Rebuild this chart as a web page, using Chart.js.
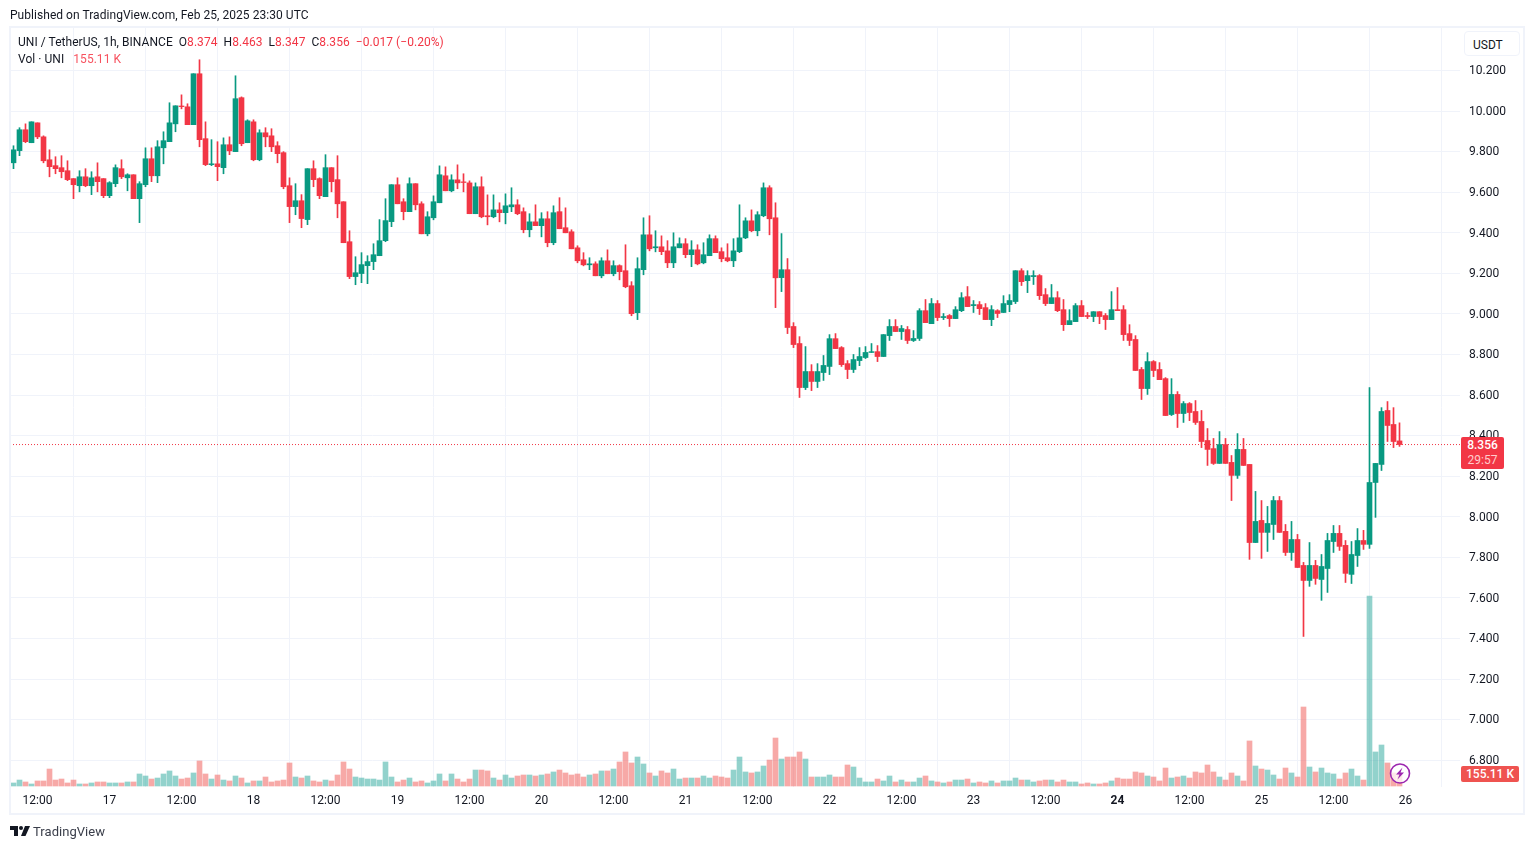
<!DOCTYPE html>
<html><head><meta charset="utf-8">
<script src="https://cdn.jsdelivr.net/npm/chart.js@4"></script>
<style>
html,body{margin:0;padding:0;background:#fff;width:1534px;height:849px;overflow:hidden}
body{font-family:Roboto,sans-serif;color:#131722;position:relative}
canvas{position:absolute;left:0;top:0}
.t{position:absolute;white-space:nowrap;font-size:12px;line-height:14px;letter-spacing:.045px}
.r{color:#f23645}.rv{color:#f7525f}
#frame{position:absolute;left:9px;top:26px;width:1512px;height:785px;border:2px solid #f0f3fa;box-sizing:content-box;pointer-events:none}
#usdt{position:absolute;left:1464px;top:31px;width:56px;height:25px;border:1px solid #f0f3fa;border-radius:4px;background:#fff;text-align:left;padding-left:8px;line-height:26px;font-size:12px;box-sizing:border-box}
.tag{position:absolute;color:#fff;text-align:center;font-size:12px;font-weight:500}
#ptag{left:1461px;width:43px;height:32px;background:#f23645;border-radius:2px;line-height:15px;padding-top:1px;box-sizing:border-box}
#vtag{left:1461px;width:58px;height:16px;background:#ef5350;border-radius:2px;line-height:16px}
</style></head><body>
<canvas id="c" width="1534" height="849"></canvas>
<div id="frame"></div>
<div class="t" style="left:10px;top:8px">Published on TradingView.com, Feb 25, 2025 23:30 UTC</div>
<div class="t" style="left:18px;top:35px">UNI / TetherUS, 1h, BINANCE&nbsp;&nbsp;O<span class="r">8.374</span>&nbsp;&nbsp;H<span class="r">8.463</span>&nbsp;&nbsp;L<span class="r">8.347</span>&nbsp;&nbsp;C<span class="r">8.356</span>&nbsp;&nbsp;<span class="r">−0.017 (−0.20%)</span></div>
<div class="t" style="left:18px;top:52px">Vol · UNI&nbsp;&nbsp;&nbsp;<span class="rv">155.11 K</span></div>
<div id="usdt">USDT</div>
<div id="ptag" class="tag">8.356<br><span style="color:#fcc;font-weight:400">29:57</span></div>
<div id="vtag" class="tag">155.11 K</div>
<svg style="position:absolute;left:1388px;top:762px" width="24" height="24" viewBox="0 0 24 24"><circle cx="12" cy="11.5" r="9.5" fill="#fff" fill-opacity=".75" stroke="#9c27b0" stroke-width="1.6"/><path d="M14.5 5.5 L8 12.5 H11.5 L9.5 17.5 L16 10.5 H12.5 Z" fill="#9c27b0"/></svg>
<svg style="position:absolute;left:10px;top:826px" width="20" height="11" viewBox="0 0 20 11"><path d="M0 0H8V10H4V4H0Z" fill="#131722"/><circle cx="11" cy="2" r="2" fill="#131722"/><path d="M15 0H20L15.5 10H11Z" fill="#131722"/></svg>
<div class="t" style="left:33px;top:823px;font-size:13px;line-height:17px;color:#3a3e4a">TradingView</div>
<script>
const opens=[9.745,9.805,9.908,9.844,9.942,9.873,9.760,9.731,9.721,9.706,
9.667,9.632,9.676,9.632,9.676,9.667,9.583,9.642,9.716,9.671,
9.686,9.568,9.637,9.765,9.681,9.819,9.849,9.937,10.025,10.021,
9.933,10.184,9.864,9.736,9.740,9.721,9.834,9.800,10.066,9.844,
9.947,9.760,9.893,9.878,9.829,9.795,9.632,9.529,9.558,9.465,
9.716,9.667,9.578,9.721,9.662,9.553,9.356,9.184,9.199,9.238,
9.258,9.287,9.361,9.455,9.637,9.553,9.504,9.642,9.543,9.395,
9.474,9.548,9.681,9.607,9.661,9.651,9.646,9.494,9.627,9.484,
9.479,9.513,9.499,9.528,9.538,9.504,9.415,9.454,9.435,9.469,
9.351,9.504,9.425,9.405,9.326,9.267,9.242,9.247,9.188,9.262,
9.198,9.238,9.213,9.139,9.006,9.218,9.390,9.326,9.331,9.311,
9.252,9.326,9.346,9.292,9.316,9.252,9.287,9.371,9.307,9.277,
9.262,9.307,9.375,9.459,9.410,9.484,9.622,9.474,9.179,9.218,
8.938,8.854,8.637,8.716,8.667,8.711,8.741,8.878,8.834,8.755,
8.726,8.770,8.785,8.810,8.814,8.790,8.893,8.938,8.913,8.923,
8.869,8.879,9.016,8.952,9.051,8.982,8.992,8.977,9.016,9.085,
9.041,9.046,9.031,8.972,9.016,9.007,9.046,9.061,9.213,9.164,
9.184,9.189,9.095,9.051,9.080,9.021,8.947,8.962,9.041,8.992,
8.987,9.011,8.992,8.972,9.021,9.021,8.903,8.874,8.726,8.632,
8.765,8.726,8.681,8.504,8.603,8.509,8.558,8.519,8.470,8.376,
8.336,8.263,8.356,8.268,8.204,8.332,8.258,7.873,7.982,7.923,
7.962,8.080,7.928,7.824,7.888,7.760,7.686,7.760,7.691,7.745,
7.878,7.918,7.859,7.716,7.809,7.883,7.864,8.169,8.258,8.524,8.455,8.374];
const highs=[9.829,9.918,9.937,9.947,9.942,9.878,9.809,9.775,9.780,9.755,
9.667,9.706,9.716,9.701,9.745,9.667,9.652,9.735,9.760,9.691,
9.686,9.652,9.819,9.819,9.854,9.898,10.041,10.026,10.080,10.036,
10.184,10.253,9.947,9.859,9.849,9.868,9.873,10.174,10.070,9.957,
9.957,9.908,9.918,9.913,9.849,9.800,9.671,9.642,9.588,9.716,
9.755,9.671,9.785,9.721,9.780,9.553,9.410,9.282,9.302,9.287,
9.346,9.465,9.568,9.637,9.671,9.568,9.671,9.642,9.553,9.504,
9.582,9.730,9.725,9.686,9.735,9.691,9.656,9.646,9.676,9.587,
9.587,9.548,9.592,9.622,9.563,9.523,9.494,9.538,9.499,9.504,
9.533,9.573,9.523,9.415,9.336,9.302,9.277,9.257,9.277,9.316,
9.262,9.242,9.341,9.159,9.277,9.474,9.484,9.410,9.385,9.361,
9.400,9.375,9.371,9.361,9.341,9.351,9.390,9.385,9.326,9.346,
9.371,9.538,9.474,9.513,9.504,9.646,9.632,9.548,9.396,9.273,
8.957,8.888,8.839,8.750,8.755,8.795,8.898,8.903,8.839,8.770,
8.800,8.834,8.839,8.854,8.844,8.898,8.972,8.972,8.943,8.938,
8.918,9.026,9.071,9.076,9.066,9.002,8.997,9.036,9.105,9.135,
9.066,9.061,9.051,9.041,9.021,9.090,9.095,9.213,9.223,9.213,
9.213,9.194,9.125,9.145,9.110,9.071,9.021,9.051,9.066,9.007,
9.011,9.011,9.002,9.110,9.130,9.041,8.947,8.893,8.736,8.809,
8.770,8.760,8.686,8.681,8.617,8.568,8.563,8.573,8.524,8.435,
8.386,8.420,8.386,8.302,8.410,8.386,8.258,8.125,8.080,8.051,
8.100,8.100,7.962,7.977,7.913,7.775,7.873,7.785,7.814,7.918,
7.957,7.957,7.883,7.878,7.942,7.933,8.637,8.263,8.538,8.568,8.538,8.463];
const lows=[9.716,9.780,9.844,9.844,9.864,9.745,9.676,9.691,9.671,9.657,
9.568,9.602,9.627,9.588,9.602,9.573,9.573,9.627,9.667,9.607,
9.568,9.450,9.627,9.652,9.647,9.740,9.849,9.898,10.011,9.933,
9.933,9.824,9.731,9.731,9.657,9.691,9.785,9.800,9.829,9.844,
9.755,9.755,9.824,9.800,9.745,9.617,9.450,9.489,9.425,9.440,
9.627,9.568,9.578,9.602,9.474,9.351,9.174,9.144,9.154,9.149,
9.218,9.287,9.356,9.430,9.543,9.464,9.504,9.513,9.395,9.385,
9.464,9.548,9.607,9.602,9.617,9.602,9.494,9.494,9.474,9.439,
9.474,9.454,9.444,9.504,9.489,9.400,9.380,9.435,9.380,9.331,
9.341,9.420,9.400,9.321,9.252,9.237,9.218,9.188,9.178,9.198,
9.188,9.168,9.129,8.991,8.972,9.193,9.311,9.306,9.292,9.228,
9.228,9.326,9.277,9.233,9.242,9.247,9.287,9.302,9.257,9.257,
9.233,9.302,9.371,9.405,9.385,9.479,9.390,9.031,9.110,8.903,
8.834,8.588,8.627,8.622,8.637,8.672,8.701,8.829,8.741,8.681,
8.711,8.745,8.780,8.810,8.765,8.790,8.869,8.913,8.874,8.854,
8.864,8.869,8.957,8.952,8.967,8.972,8.938,8.977,9.011,9.036,
9.007,8.997,8.972,8.942,8.982,9.007,9.011,9.051,9.140,9.105,
9.145,9.071,9.041,9.051,9.011,8.918,8.947,8.962,8.987,8.977,
8.962,8.952,8.923,8.972,9.016,8.869,8.844,8.721,8.578,8.603,
8.691,8.676,8.499,8.499,8.440,8.465,8.474,8.455,8.341,8.253,
8.258,8.263,8.263,8.080,8.189,8.253,7.790,7.873,7.795,7.829,
7.888,7.923,7.809,7.785,7.750,7.410,7.657,7.667,7.588,7.627,
7.824,7.834,7.676,7.671,7.755,7.839,7.844,7.997,8.228,8.371,8.341,8.347];
const closes=[9.809,9.908,9.849,9.947,9.873,9.755,9.726,9.716,9.701,9.662,
9.637,9.676,9.632,9.671,9.652,9.583,9.647,9.721,9.676,9.686,
9.568,9.642,9.765,9.681,9.824,9.854,9.942,10.026,10.022,9.933,
10.184,9.859,9.736,9.740,9.726,9.834,9.804,10.061,9.839,9.952,
9.760,9.893,9.873,9.824,9.790,9.627,9.529,9.558,9.470,9.716,
9.662,9.583,9.721,9.652,9.543,9.351,9.184,9.203,9.243,9.258,
9.292,9.361,9.460,9.637,9.543,9.504,9.642,9.538,9.395,9.479,
9.553,9.686,9.607,9.661,9.646,9.648,9.494,9.627,9.479,9.479,
9.513,9.499,9.533,9.538,9.494,9.415,9.454,9.435,9.469,9.351,
9.499,9.420,9.400,9.321,9.262,9.242,9.247,9.188,9.262,9.198,
9.238,9.208,9.134,9.001,9.223,9.390,9.321,9.331,9.307,9.252,
9.331,9.346,9.292,9.316,9.247,9.292,9.371,9.302,9.272,9.262,
9.311,9.375,9.459,9.410,9.489,9.622,9.469,9.178,9.218,8.933,
8.849,8.637,8.716,8.667,8.716,8.746,8.878,8.829,8.750,8.726,
8.775,8.790,8.810,8.814,8.790,8.898,8.938,8.913,8.928,8.869,
8.879,9.016,8.957,9.051,8.982,8.987,8.977,9.021,9.080,9.036,
9.046,9.026,8.972,9.021,9.002,9.051,9.066,9.213,9.159,9.189,
9.189,9.090,9.051,9.080,9.016,8.947,8.967,9.041,8.987,8.987,
9.011,8.987,8.972,9.021,9.016,8.898,8.869,8.721,8.632,8.765,
8.721,8.676,8.499,8.603,8.509,8.558,8.514,8.465,8.371,8.332,
8.263,8.356,8.263,8.204,8.332,8.253,7.873,7.977,7.923,7.967,
8.080,7.923,7.824,7.888,7.750,7.686,7.760,7.696,7.755,7.883,
7.918,7.854,7.721,7.814,7.883,7.864,8.169,8.263,8.519,8.450,8.371,8.356];
const volumes=[39,77,52,26,65,65,219,77,90,39,
77,26,26,39,52,52,39,39,39,52,
52,155,129,90,103,155,194,129,90,103,
168,323,155,90,142,77,65,129,103,39,
65,65,116,52,65,77,297,116,103,129,
65,52,77,65,142,310,219,116,103,90,
90,77,310,116,52,77,103,52,65,39,
65,155,65,155,90,52,90,206,206,194,
103,77,142,103,129,142,142,129,142,155,
181,206,168,142,155,116,142,155,194,194,
219,310,439,297,374,284,168,129,194,168,
219,90,103,103,103,129,103,129,116,103,
206,374,181,168,181,258,335,619,348,374,
374,439,348,116,116,116,142,116,116,271,
245,103,52,52,90,65,129,52,77,52,
52,103,129,65,52,39,52,77,77,90,
39,52,39,65,39,65,65,103,77,77,
52,65,77,77,52,77,52,52,26,39,
26,26,39,65,103,90,90,181,168,129,
116,65,232,103,116,129,103,181,168,271,
181,116,77,168,129,65,581,258,219,206,
142,90,232,168,116,1019,245,181,232,168,
155,90,168,219,129,77,2451,439,529,297,168,155.11];
const priceTicks=[10.2,10,9.8,9.6,9.4,9.2,9,8.8,8.6,8.4,8.2,8,7.8,7.6,7.4,7.2,7,6.8];
const timeLabels=['12:00','17','12:00','18','12:00','19','12:00','20','12:00','21','12:00','22','12:00','23','12:00','24','12:00','25','12:00','26'];
const lastPrice=8.356, lastVolume=155.11;

const UP='#089981', DOWN='#f23645', UPV='rgba(38,166,154,.5)', DOWNV='rgba(239,83,80,.5)';
const isUp=i=>closes[i]>=opens[i];
const colors=opens.map((_,i)=>isUp(i)?UP:DOWN);
const volColors=opens.map((_,i)=>isUp(i)?UPV:DOWNV);
const xMin=-3.5/6, xMax=1446.5/6;

new Chart(document.getElementById('c'),{
  data:{datasets:[
    {type:'bar',label:'Volume',yAxisID:'yv',order:4,grouped:false,data:volumes.map((v,i)=>({x:i,y:v})),backgroundColor:volColors,barThickness:5,borderWidth:0},
    {type:'line',label:'Last',yAxisID:'y',order:3,data:[{x:xMin,y:lastPrice},{x:xMax,y:lastPrice}],borderColor:DOWN,borderWidth:1,borderDash:[1,2],pointRadius:0},
    {type:'bar',label:'Wick',yAxisID:'y',order:2,grouped:false,data:lows.map((l,i)=>({x:i,y:[l,highs[i]]})),backgroundColor:colors,barThickness:1,borderWidth:0},
    {type:'bar',label:'Body',yAxisID:'y',order:1,grouped:false,data:opens.map((o,i)=>({x:i,y:[o,closes[i]]})),backgroundColor:colors,barThickness:5,borderWidth:0}
  ]},
  options:{
    responsive:false,animation:false,events:[],
    layout:{padding:{left:10,top:28,right:0,bottom:0}},
    plugins:{legend:{display:false},tooltip:{enabled:false},title:{display:false}},
    scales:{
      x:{type:'linear',min:xMin,max:xMax,offset:false,stacked:false,
        afterBuildTicks:s=>{s.ticks=timeLabels.map((_,k)=>({value:4+12*k}));},
        afterFit:s=>{s.height=62;},
        grid:{color:'#f0f3fa',drawTicks:false},border:{display:false},
        ticks:{autoSkip:false,maxRotation:0,padding:7,color:'#131722',
          font:c=>({family:'Roboto',size:12,weight:(c.tick&&c.tick.label==='24')?'bold':'normal'}),
          callback:v=>timeLabels[(v-4)/12]}},
      y:{type:'linear',position:'right',min:10.2-(787-70.5)/202.85,max:10.2+(70.5-28)/202.85,
        afterBuildTicks:s=>{
          s.ticks=priceTicks.map(v=>({value:v}));
          if(!s._shifted){const f=s._computeLabelItems;s._computeLabelItems=function(a){const r=f.call(this,a);r.forEach(i=>{i.options.translation[1]+=0.8;});return r;};s._shifted=true;}
        },
        afterFit:s=>{s.width=74;},
        grid:{color:'#f0f3fa',drawTicks:false},border:{display:false},
        ticks:{padding:9,color:'#131722',font:{family:'Roboto',size:12},callback:v=>v.toFixed(3)}},
      yv:{type:'linear',display:false,min:-12.9,max:9778,grid:{display:false}}
    }
  },
  plugins:[{id:'tags',afterRender(ch){
    const py=ch.scales.y.getPixelForValue(lastPrice);
    document.getElementById('ptag').style.top=Math.round(py-8)+'px';
    const vy=ch.scales.yv.getPixelForValue(lastVolume);
    document.getElementById('vtag').style.top=Math.round(vy-8)+'px';
  }}]
});
</script>
</body></html>
